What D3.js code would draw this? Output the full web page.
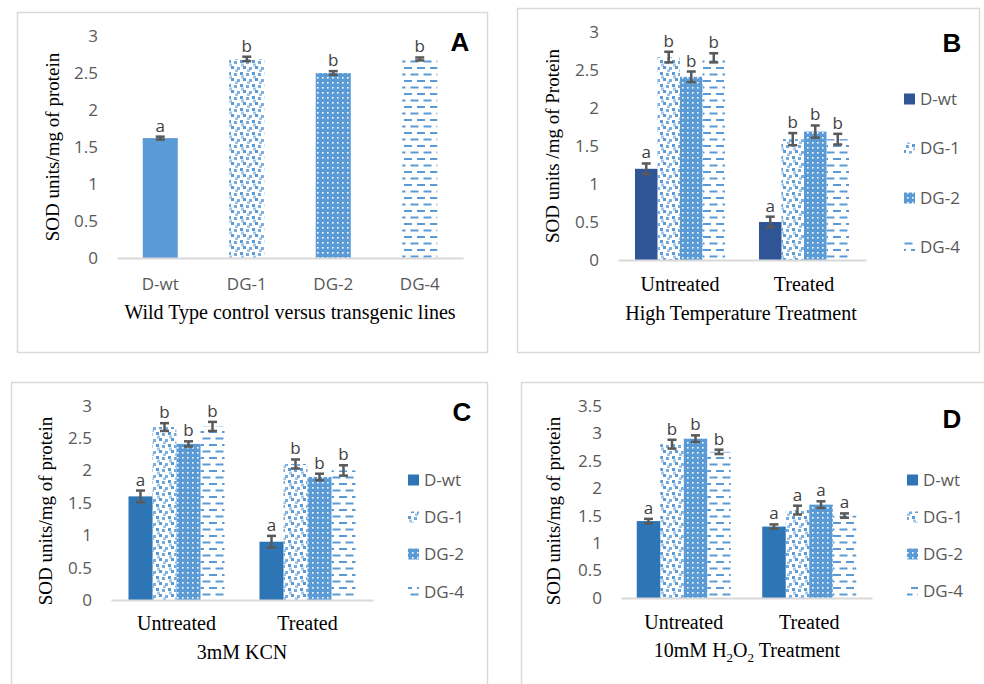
<!DOCTYPE html>
<html>
<head>
<meta charset="utf-8">
<script src="https://cdn.jsdelivr.net/npm/d3@7"></script>
<style>
  body { margin: 0; background: #fff; }
  svg { display: block; }
</style>
</head>
<body>
<script>
// series and groups
var seriesNames = ["D-wt", "DG-1", "DG-2", "DG-4"];
var groupNames = ["Untreated", "Treated"];
var yTicks3 = [0, 0.5, 1, 1.5, 2, 2.5, 3];
var yTicks35 = [0, 0.5, 1, 1.5, 2, 2.5, 3, 3.5];

// panel A : single series
var aValues = [1.62, 2.69, 2.5, 2.69];
var aErrors = [0.02, 0.03, 0.025, 0.02];
var aLetters = ["a", "b", "b", "b"];

// panel B : high temperature
var bUntreated = [1.2, 2.67, 2.41, 2.66];
var bTreated = [0.5, 1.59, 1.69, 1.59];
var bErrUntreated = [0.07, 0.07, 0.07, 0.06];
var bErrTreated = [0.07, 0.08, 0.08, 0.07];
var bLetters = [["a", "b", "b", "b"], ["a", "b", "b", "b"]];

// panel C : 3mM KCN
var cUntreated = [1.6, 2.67, 2.41, 2.68];
var cTreated = [0.9, 2.1, 1.9, 2.0];
var cErrUntreated = [0.09, 0.06, 0.04, 0.07];
var cErrTreated = [0.09, 0.07, 0.05, 0.08];
var cLetters = [["a", "b", "b", "b"], ["a", "b", "b", "b"]];

// panel D : 10mM H2O2
var dUntreated = [1.4, 2.8, 2.9, 2.66];
var dTreated = [1.3, 1.6, 1.7, 1.5];
var dErrUntreated = [0.04, 0.08, 0.06, 0.04];
var dErrTreated = [0.04, 0.08, 0.06, 0.04];
var dLetters = [["a", "b", "b", "b"], ["a", "a", "a", "a"]];

var W = 984, H = 684;
var blue = "#5b9bd5";
var sans = "'Open Sans', 'Liberation Sans', sans-serif";
var serif = "'Liberation Serif', 'Times New Roman', serif";

var svg = d3.select("body").append("svg")
    .attr("width", W)
    .attr("height", H);

// fill patterns
var defs = svg.append("defs");

var p1 = defs.append("pattern").attr("id", "pDG1")
    .attr("patternUnits", "userSpaceOnUse").attr("width", 12).attr("height", 12);
[[0, 0, 1], [6, 1, 0.85], [3, 6, 1], [9, 7, 0.8], [1, 3.5, 0.55], [7, 9.5, 0.6]].forEach(function (s) {
    p1.append("rect").attr("x", s[0]).attr("y", s[1]).attr("width", 3).attr("height", 3)
        .attr("fill", blue).attr("opacity", s[2]);
});

var p2 = defs.append("pattern").attr("id", "pDG2")
    .attr("patternUnits", "userSpaceOnUse").attr("width", 5).attr("height", 5);
p2.append("rect").attr("width", 5).attr("height", 5).attr("fill", blue);
p2.append("rect").attr("x", 2).attr("y", 2).attr("width", 1.6).attr("height", 1.6).attr("fill", "#fff");

var p4 = defs.append("pattern").attr("id", "pDG4")
    .attr("patternUnits", "userSpaceOnUse").attr("width", 13).attr("height", 13);
p4.append("rect").attr("x", 1).attr("y", 2).attr("width", 8).attr("height", 2).attr("fill", blue);
p4.append("rect").attr("x", 7.5).attr("y", 8.5).attr("width", 8).attr("height", 2).attr("fill", blue);
p4.append("rect").attr("x", -5.5).attr("y", 8.5).attr("width", 8).attr("height", 2).attr("fill", blue);

function seriesFill(wtColor) {
    return [wtColor, "url(#pDG1)", "url(#pDG2)", "url(#pDG4)"];
}

// draws one grouped panel
function drawPanel(o) {
    var g = svg.append("g");

    g.append("rect")
        .attr("x", o.box[0] + 0.5).attr("y", o.box[1] + 0.5)
        .attr("width", o.box[2] - o.box[0]).attr("height", o.box[3] - o.box[1])
        .attr("fill", "none").attr("stroke", "#d9d9d9").attr("stroke-width", 1.5);

    var y = d3.scaleLinear().domain([0, d3.max(o.yTicks)]).range([o.base, o.top]);

    var x0 = d3.scaleBand().domain(o.groups)
        .range([o.left, o.right])
        .paddingInner(o.pad).paddingOuter(o.pad / 2);
    var x1 = d3.scaleBand().domain(o.series).range([0, x0.bandwidth()]);

    // y axis (labels only)
    var yAxis = d3.axisLeft(y).tickValues(o.yTicks).tickSize(0).tickPadding(19)
        .tickFormat(function (d) { return String(d); });
    var ya = g.append("g").attr("transform", "translate(" + o.left + ",0)").call(yAxis);
    ya.select(".domain").remove();
    ya.selectAll("text").attr("font-family", sans).attr("font-size", 17).attr("fill", "#595959");

    var fills = seriesFill(o.wtColor);

    o.groups.forEach(function (grp, gi) {
        var vals = o.values[gi], errs = o.errors[gi], lets = o.letters[gi];
        o.series.forEach(function (s, si) {
            var bx = x0(grp) + x1(s);
            var bw = x1.bandwidth();
            g.append("rect")
                .attr("x", bx).attr("y", y(vals[si]))
                .attr("width", bw).attr("height", o.base - y(vals[si]))
                .attr("fill", fills[si]);

            var cx = bx + bw / 2;
            var hi = y(vals[si] + errs[si]), lo = y(vals[si] - errs[si]);
            var eb = g.append("g").attr("stroke", "#595959").attr("stroke-width", 2.5);
            eb.append("line").attr("x1", cx).attr("x2", cx).attr("y1", hi).attr("y2", lo);
            eb.append("line").attr("x1", cx - 4.5).attr("x2", cx + 4.5).attr("y1", hi).attr("y2", hi);
            eb.append("line").attr("x1", cx - 4.5).attr("x2", cx + 4.5).attr("y1", lo).attr("y2", lo);

            g.append("text")
                .attr("x", cx).attr("y", hi - 5)
                .attr("text-anchor", "middle")
                .attr("font-family", sans).attr("font-size", 17).attr("fill", "#404040")
                .text(lets[si]);
        });
    });

    // x axis
    var xAxis = d3.axisBottom(x0).tickSize(0).tickSizeOuter(0);
    var xa = g.append("g").attr("transform", "translate(0," + o.base + ")").call(xAxis);
    xa.select(".domain").attr("stroke", "#d9d9d9").attr("stroke-width", 2);
    xa.selectAll("text")
        .attr("y", o.catOffset).attr("dy", "0.35em")
        .attr("font-family", serif).attr("font-size", 20).attr("fill", "#000");

    // y title
    g.append("text")
        .attr("transform", "translate(" + o.yTitlePos[0] + "," + o.yTitlePos[1] + ") rotate(-90)")
        .attr("text-anchor", "middle").attr("dy", "0.35em")
        .attr("font-family", serif).attr("font-size", 19).attr("fill", "#000")
        .text(o.yTitle);

    // x title
    var xt = g.append("text")
        .attr("x", o.xTitlePos[0]).attr("y", o.xTitlePos[1])
        .attr("text-anchor", "middle")
        .attr("font-family", serif).attr("font-size", 20).attr("fill", "#000");
    o.xTitle.forEach(function (part) {
        var t = xt.append("tspan").text(part[0]);
        if (part[1]) t.attr("font-size", 13).attr("dy", 5);
        else if (part[2]) t.attr("dy", -5);
    });

    // panel letter
    g.append("text")
        .attr("x", o.tag[1]).attr("y", o.tag[2])
        .attr("text-anchor", "middle").attr("dy", "0.36em")
        .attr("font-family", "'Liberation Sans', Arial, sans-serif")
        .attr("font-weight", "bold").attr("font-size", 26).attr("fill", "#000")
        .text(o.tag[0]);

    // legend
    o.series.forEach(function (s, si) {
        var ly = o.legend.ys[si];
        g.append("rect")
            .attr("x", o.legend.x).attr("y", ly - 5.5)
            .attr("width", 11).attr("height", 11)
            .attr("fill", fills[si]);
        g.append("text")
            .attr("x", o.legend.x + 16).attr("y", ly).attr("dy", "0.35em")
            .attr("font-family", sans).attr("font-size", 17).attr("fill", "#595959")
            .text(s);
    });
}

// Panel A: one bar per line
(function () {
    var g = svg.append("g");
    var o = { box: [17, 12, 487, 352], base: 258, top: 36, left: 117, right: 463 };
    g.append("rect")
        .attr("x", o.box[0] + 0.5).attr("y", o.box[1] + 0.5)
        .attr("width", o.box[2] - o.box[0]).attr("height", o.box[3] - o.box[1])
        .attr("fill", "none").attr("stroke", "#d9d9d9").attr("stroke-width", 1.5);

    var y = d3.scaleLinear().domain([0, 3]).range([o.base, o.top]);
    var x = d3.scaleBand().domain(seriesNames).range([o.left, o.right])
        .paddingInner(0.595).paddingOuter(0.2975);

    var ya = g.append("g").attr("transform", "translate(" + o.left + ",0)")
        .call(d3.axisLeft(y).tickValues(yTicks3).tickSize(0).tickPadding(19)
            .tickFormat(function (d) { return String(d); }));
    ya.select(".domain").remove();
    ya.selectAll("text").attr("font-family", sans).attr("font-size", 17).attr("fill", "#595959");

    var fills = seriesFill(blue);
    g.selectAll(".barA")
        .data(aValues)
        .enter()
        .append("rect")
        .attr("class", "barA")
        .attr("x", function (d, i) { return x(seriesNames[i]); })
        .attr("y", function (d) { return y(d); })
        .attr("width", x.bandwidth())
        .attr("height", function (d) { return o.base - y(d); })
        .attr("fill", function (d, i) { return fills[i]; });

    aValues.forEach(function (v, i) {
        var cx = x(seriesNames[i]) + x.bandwidth() / 2;
        var hi = y(v + aErrors[i]), lo = y(v - aErrors[i]);
        var eb = g.append("g").attr("stroke", "#595959").attr("stroke-width", 2.5);
        eb.append("line").attr("x1", cx).attr("x2", cx).attr("y1", hi).attr("y2", lo);
        eb.append("line").attr("x1", cx - 4.5).attr("x2", cx + 4.5).attr("y1", hi).attr("y2", hi);
        eb.append("line").attr("x1", cx - 4.5).attr("x2", cx + 4.5).attr("y1", lo).attr("y2", lo);
        g.append("text")
            .attr("x", cx).attr("y", hi - 5).attr("text-anchor", "middle")
            .attr("font-family", sans).attr("font-size", 17).attr("fill", "#404040")
            .text(aLetters[i]);
    });

    var xa = g.append("g").attr("transform", "translate(0," + o.base + ")")
        .call(d3.axisBottom(x).tickSize(0).tickSizeOuter(0));
    xa.select(".domain").attr("stroke", "#d9d9d9").attr("stroke-width", 2);
    xa.selectAll("text").attr("y", 26).attr("dy", "0.35em")
        .attr("font-family", sans).attr("font-size", 17).attr("fill", "#595959");

    g.append("text")
        .attr("transform", "translate(52,147) rotate(-90)")
        .attr("text-anchor", "middle").attr("dy", "0.35em")
        .attr("font-family", serif).attr("font-size", 19)
        .text("SOD units/mg of protein");
    g.append("text")
        .attr("x", 290).attr("y", 319).attr("text-anchor", "middle")
        .attr("font-family", serif).attr("font-size", 20)
        .text("Wild Type control versus transgenic lines");
    g.append("text")
        .attr("x", 460).attr("y", 42).attr("text-anchor", "middle").attr("dy", "0.36em")
        .attr("font-family", "'Liberation Sans', Arial, sans-serif")
        .attr("font-weight", "bold").attr("font-size", 26)
        .text("A");
})();

drawPanel({
    box: [517, 8, 979, 352], base: 260, top: 32, left: 618, right: 866, pad: 0.274,
    yTicks: yTicks3, groups: groupNames, series: seriesNames,
    values: [bUntreated, bTreated], errors: [bErrUntreated, bErrTreated], letters: bLetters,
    wtColor: "#2f5597", catOffset: 24,
    yTitle: "SOD units /mg of Protein", yTitlePos: [552, 146],
    xTitle: [["High Temperature Treatment"]], xTitlePos: [741, 320],
    tag: ["B", 952, 43],
    legend: { x: 904, ys: [99, 148, 198, 247] }
});

drawPanel({
    box: [11, 382, 487, 700], base: 600, top: 405.7, left: 111, right: 373, pad: 0.267,
    yTicks: yTicks3, groups: groupNames, series: seriesNames,
    values: [cUntreated, cTreated], errors: [cErrUntreated, cErrTreated], letters: cLetters,
    wtColor: "#2e75b6", catOffset: 23,
    yTitle: "SOD units/mg of protein", yTitlePos: [45, 511],
    xTitle: [["3mM KCN"]], xTitlePos: [242, 659],
    tag: ["C", 462, 412],
    legend: { x: 408, ys: [480, 517, 554, 592] }
});

drawPanel({
    box: [521, 382, 1000, 700], base: 598, top: 405.7, left: 621, right: 872, pad: 0.251,
    yTicks: yTicks35, groups: groupNames, series: seriesNames,
    values: [dUntreated, dTreated], errors: [dErrUntreated, dErrTreated], letters: dLetters,
    wtColor: "#2e75b6", catOffset: 24,
    yTitle: "SOD units/mg of protein", yTitlePos: [553, 511],
    xTitle: [["10mM H"], ["2", true], ["O", false, true], ["2", true], [" Treatment", false, true]],
    xTitlePos: [747, 657],
    tag: ["D", 952, 419],
    legend: { x: 907, ys: [480, 517, 554, 591] }
});
</script>
</body>
</html>
